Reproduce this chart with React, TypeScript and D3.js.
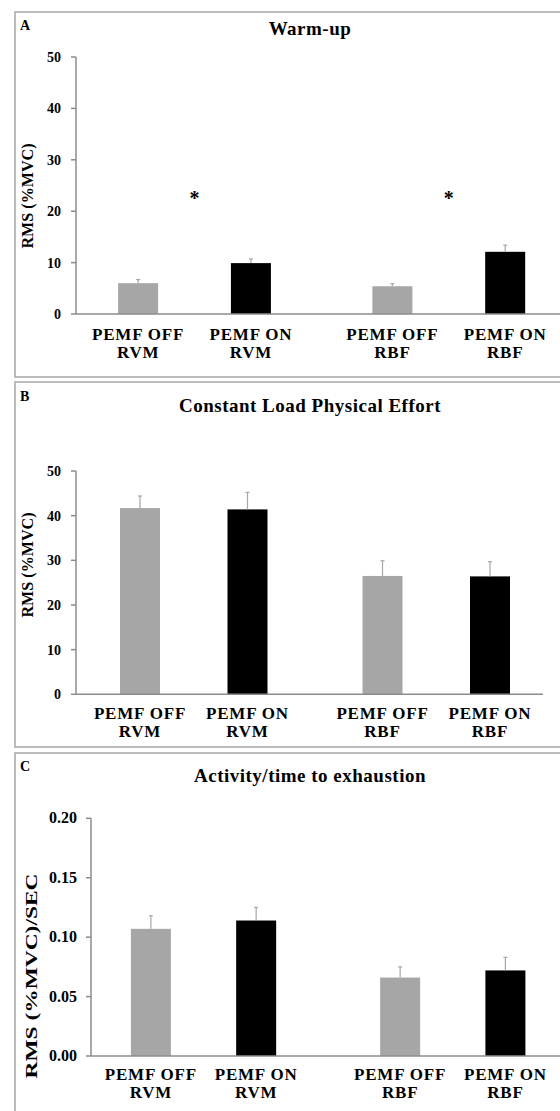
import React from "react"
import * as d3 from "d3"

// categories
const groups = ["RVM", "RBF"]
const conditions = ["PEMF OFF", "PEMF ON"]

// panel A: warm-up, RMS (%MVC)
const warmupMean = [6.0, 9.9, 5.4, 12.1]
const warmupErr = [0.7, 0.8, 0.5, 1.3]
const warmupSig = [23, 23]
const warmupTicks = [0, 10, 20, 30, 40, 50]

// panel B: constant load, RMS (%MVC)
const constantMean = [41.7, 41.4, 26.5, 26.4]
const constantErr = [2.7, 3.8, 3.4, 3.3]
const constantTicks = [0, 10, 20, 30, 40, 50]

// panel C: activity / time to exhaustion, RMS (%MVC)/SEC
const activityMean = [0.107, 0.114, 0.066, 0.072]
const activityErr = [0.011, 0.011, 0.009, 0.011]
const activityTicks = [0, 0.05, 0.1, 0.15, 0.2]

const FONT = "Liberation Serif, Times New Roman, serif"
const GREY = "#a6a6a6"
const AXIS = "#8c8c8c"

interface PanelProps {
  top: number
  letter: string
  title: string
  yTitle: string
  yTitleY: number
  yTitleX: number
  yTitleSize: number
  yTitleLen: number
  titleY: number
  letterY: number
  means: number[]
  errs: number[]
  sig?: number[]
  ticks: number[]
  tickSize: number
  fmt: (v: number) => string
  yRange: [number, number]
  xRange: [number, number]
  innerPad: number
  axisX: number
  axisEnd: number
  labelY: number
  tickLabelX: number
}

const Panel: React.FC<PanelProps> = (p) => {
  const y = d3.scaleLinear().domain([p.ticks[0], p.ticks[p.ticks.length - 1]]).range(p.yRange)
  const outer = d3.scaleBand<string>().domain(groups).range(p.xRange).padding(0)
  const inner = d3.scalePoint<string>().domain(conditions).range([0, outer.bandwidth()]).padding(p.innerPad)
  const barW = 40

  const bars = groups.flatMap((g, gi) =>
    conditions.map((c, ci) => {
      const i = gi * 2 + ci
      return { g, c, i, cx: (outer(g) as number) + (inner(c) as number), v: p.means[i], e: p.errs[i] }
    })
  )

  return (
    <g transform={`translate(0,${p.top})`} style={{ fontFamily: FONT, fontWeight: "bold" }} fill="#000">
      <rect x={15} y={0} width={560} height={365} fill="#fff" stroke={GREY} strokeWidth={1.5} />
      <text x={20} y={p.letterY} fontSize={14}>{p.letter}</text>
      <text x={310} y={p.titleY} fontSize={19} letterSpacing={0.5} textAnchor="middle">{p.title}</text>
      <text transform={`translate(${p.yTitleX},${p.yTitleY}) rotate(-90)`} fontSize={p.yTitleSize} textAnchor="middle"
        textLength={p.yTitleLen} lengthAdjust="spacingAndGlyphs">{p.yTitle}</text>

      {/* y axis */}
      <line x1={p.axisX} x2={p.axisX} y1={y(p.ticks[p.ticks.length - 1])} y2={y(0)} stroke={AXIS} strokeWidth={1.5} />
      {p.ticks.map((t) => (
        <g key={t}>
          <line x1={p.axisX - 5} x2={p.axisX} y1={y(t)} y2={y(t)} stroke={AXIS} strokeWidth={1.5} />
          <text x={p.tickLabelX} y={y(t) + 5} fontSize={p.tickSize} textAnchor="end">{p.fmt(t)}</text>
        </g>
      ))}

      {/* bars + error bars */}
      {bars.map((b) => (
        <g key={b.i}>
          <rect x={b.cx - barW / 2} y={y(b.v)} width={barW} height={y(0) - y(b.v)} fill={b.c === "PEMF ON" ? "#000" : GREY} />
          <line x1={b.cx} x2={b.cx} y1={y(b.v)} y2={y(b.v + b.e)} stroke={GREY} strokeWidth={1.2} />
          <line x1={b.cx - 2} x2={b.cx + 2} y1={y(b.v + b.e)} y2={y(b.v + b.e)} stroke={GREY} strokeWidth={1.2} />
          <text x={b.cx} y={p.labelY} fontSize={17} letterSpacing={0.8} textAnchor="middle">{b.c}</text>
          <text x={b.cx} y={p.labelY + 18} fontSize={17} letterSpacing={0.8} textAnchor="middle">{b.g}</text>
        </g>
      ))}

      {p.sig && groups.map((g, gi) => (
        <text key={g} x={(outer(g) as number) + outer.bandwidth() / 2} y={y(p.sig![gi]) + 9} fontSize={20} textAnchor="middle">*</text>
      ))}

      {/* x axis */}
      <line x1={p.axisX} x2={p.axisEnd} y1={y(0)} y2={y(0)} stroke={AXIS} strokeWidth={1.5} />
    </g>
  )
}

const App: React.FC = () => {
  const fmt0 = (v: number) => d3.format("d")(v)
  const fmt2 = (v: number) => d3.format(".2f")(v)
  return (
    <svg width={560} height={1111} style={{ position: "absolute", left: 0, top: 0 }}>
      <rect width={560} height={1111} fill="#fff" />
      <Panel top={12} letter="A" title="Warm-up" yTitle="RMS (%MVC)" yTitleX={33} yTitleY={184} yTitleSize={16} yTitleLen={105}
        titleY={23} letterY={18}
        means={warmupMean} errs={warmupErr} sig={warmupSig} ticks={warmupTicks} tickSize={14} fmt={fmt0}
        yRange={[302, 45]} xRange={[67.4, 575.9]} innerPad={0.627} axisX={76} axisEnd={560} labelY={328} tickLabelX={61} />
      <Panel top={382} letter="B" title="Constant Load Physical Effort" yTitle="RMS (%MVC)" yTitleX={33} yTitleY={183} yTitleSize={16} yTitleLen={105}
        titleY={30} letterY={19}
        means={constantMean} errs={constantErr} ticks={constantTicks} tickSize={14} fmt={fmt0}
        yRange={[312.3, 89]} xRange={[72.5, 557.5]} innerPad={0.628} axisX={76} axisEnd={543} labelY={337} tickLabelX={61} />
      <Panel top={753} letter="C" title="Activity/time to exhaustion" yTitle="RMS (%MVC)/SEC" yTitleX={37} yTitleY={223} yTitleSize={17} yTitleLen={205}
        titleY={29} letterY={18}
        means={activityMean} errs={activityErr} ticks={activityTicks} tickSize={16} fmt={fmt2}
        yRange={[303, 65.3]} xRange={[78.9, 577.4]} innerPad={0.684} axisX={91} axisEnd={560} labelY={327} tickLabelX={77} />
    </svg>
  )
}

export default App
